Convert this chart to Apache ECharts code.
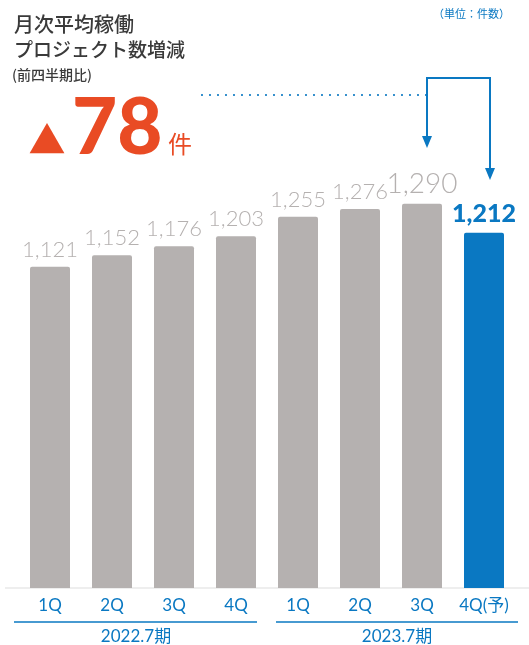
<!DOCTYPE html>
<html>
<head>
<meta charset="utf-8">
<script src="https://cdn.jsdelivr.net/npm/echarts@6/dist/echarts.min.js"></script>
<style>
  html, body { margin: 0; padding: 0; background: #fff; }
  #chart { width: 529px; height: 645px; }
</style>
</head>
<body>
<div id="chart"></div>
<script>
// data
const quarters = ['1Q', '2Q', '3Q', '4Q', '1Q', '2Q', '3Q', '4Q(予)']
const projects = [1121, 1152, 1176, 1203, 1255, 1276, 1290, 1212]
const fiscalYears = ['2022.7期', '2023.7期']
const diffText = '78'

const GRAY = '#b5b1b0'
const BLUE = '#0a78c2'
const ORANGE = '#e94b24'
const JP = '"Noto Sans CJK JP", sans-serif'
const NUM = 'Lato, "Noto Sans CJK JP", sans-serif'

const lastIdx = projects.length - 1
const peakIdx = projects.indexOf(Math.max(...projects))

const barData = projects.map((v, i) => {
  const isLast = i === lastIdx
  return {
    value: v,
    itemStyle: { color: isLast ? BLUE : GRAY },
    label: {
      color: isLast ? BLUE : GRAY,
      fontWeight: isLast ? 900 : 300,
      fontSize: isLast ? 25 : i === peakIdx ? 28 : 22
    }
  }
})

const chart = echarts.init(document.getElementById('chart'))

chart.setOption({
  animation: false,
  grid: { left: 19, right: 14, top: 103, bottom: 57 },
  xAxis: {
    type: 'category',
    data: quarters,
    axisLine: { show: false },
    axisTick: { show: false },
    axisLabel: { color: BLUE, fontSize: 17, fontFamily: NUM, margin: 9, interval: 0 }
  },
  yAxis: { type: 'value', min: 260, max: 1560, show: false },
  series: [
    {
      type: 'bar',
      barWidth: 40,
      data: barData,
      itemStyle: { borderRadius: [2, 2, 0, 0] },
      label: {
        show: true,
        position: 'top',
        distance: 6,
        fontFamily: NUM,
        formatter: (p) => p.value.toLocaleString('en-US')
      }
    }
  ],
  graphic: [
    // baseline
    { type: 'line', shape: { x1: 5, y1: 588, x2: 529, y2: 588 }, style: { stroke: '#dddddd', lineWidth: 1 } },
    // fiscal year underlines + labels
    { type: 'line', shape: { x1: 14, y1: 622, x2: 257, y2: 622 }, style: { stroke: BLUE, lineWidth: 1.5 } },
    { type: 'line', shape: { x1: 276, y1: 622, x2: 518, y2: 622 }, style: { stroke: BLUE, lineWidth: 1.5 } },
    { type: 'text', x: 136, y: 637, style: { text: fiscalYears[0], fill: BLUE, font: '17px ' + NUM, align: 'center', verticalAlign: 'middle' } },
    { type: 'text', x: 397, y: 637, style: { text: fiscalYears[1], fill: BLUE, font: '17px ' + NUM, align: 'center', verticalAlign: 'middle' } },
    // titles
    { type: 'text', x: 14, y: 24, style: { text: '月次平均稼働', fill: '#3a3a3a', font: '500 20px ' + JP, verticalAlign: 'middle' } },
    { type: 'text', x: 14, y: 50, style: { text: 'プロジェクト数増減', fill: '#3a3a3a', font: '500 19px ' + JP, verticalAlign: 'middle' } },
    { type: 'text', x: 12, y: 75, style: { text: '(前四半期比)', fill: '#3a3a3a', font: '500 14px ' + JP, verticalAlign: 'middle' } },
    { type: 'text', x: 510, y: 14, style: { text: '（単位：件数）', fill: BLUE, font: '11px ' + JP, align: 'right', verticalAlign: 'middle' } },
    // ▲78件
    { type: 'text', x: 47, y: 140, style: { text: '▲', fill: ORANGE, font: '37px ' + JP, align: 'center', verticalAlign: 'middle' } },
    { type: 'text', x: 72, y: 168, style: { text: diffText, fill: ORANGE, font: '900 78px ' + NUM, verticalAlign: 'bottom' } },
    { type: 'text', x: 168, y: 156, style: { text: '件', fill: ORANGE, font: '400 24px ' + JP, verticalAlign: 'bottom' } },
    // dotted leader + arrows
    { type: 'line', shape: { x1: 202, y1: 95, x2: 427, y2: 95 }, style: { stroke: BLUE, lineWidth: 2.2, lineDash: [0, 8], lineCap: 'round' } },
    { type: 'polyline', shape: { points: [[427, 138], [427, 78], [490, 78], [490, 170]] }, style: { stroke: BLUE, lineWidth: 2, fill: null } },
    { type: 'polygon', shape: { points: [[422, 136], [432, 136], [427, 148]] }, style: { fill: BLUE } },
    { type: 'polygon', shape: { points: [[485, 168], [495, 168], [490, 180]] }, style: { fill: BLUE } }
  ]
})
</script>
</body>
</html>
